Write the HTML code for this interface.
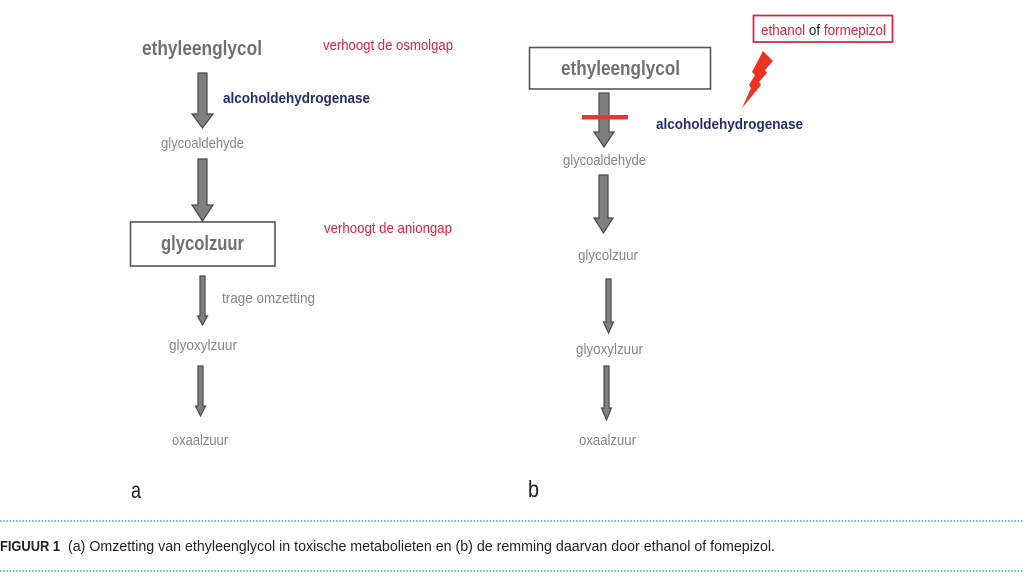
<!DOCTYPE html>
<html><head><meta charset="utf-8"><style>
html,body{margin:0;padding:0;background:#fff;}
svg{display:block;}
text{font-family:"Liberation Sans Narrow","Liberation Sans",sans-serif;}
</style></head><body>
<svg width="1024" height="578" viewBox="0 0 1024 578" xmlns="http://www.w3.org/2000/svg">
<rect width="1024" height="578" fill="#fff"/>
<g fill="#7f7f80" stroke="#4a4a4a" stroke-width="1.2" stroke-linejoin="miter">
<polygon points="198,73 207,73 207,114 213,114 202.5,128 192,114 198,114"/>
<polygon points="198,159 207,159 207,205 213,205 202.5,221 192,205 198,205"/>
<polygon points="200,276 205,276 205,316 207.5,316 202.5,325 197.5,316 200,316"/>
<polygon points="198,366 203,366 203,406 205.5,406 200.5,416 195.5,406 198,406"/>
<polygon points="599,93 609,93 609,132 614,132 604,147 594,132 599,132"/>
<polygon points="599,175 608,175 608,218 613,218 603.5,233 594,218 599,218"/>
<polygon points="606,279 611,279 611,322 613.5,322 608.5,333 603.5,322 606,322"/>
<polygon points="604,366 609,366 609,408 611.5,408 606.5,420 601.5,408 604,408"/>
</g>
<rect x="130.5" y="222" width="144.5" height="44" fill="none" stroke="#555" stroke-width="1.6"/>
<rect x="529.5" y="47.5" width="181" height="41.5" fill="none" stroke="#555" stroke-width="1.6"/>
<rect x="753.5" y="15.5" width="139" height="26.5" fill="none" stroke="#e0283c" stroke-width="1.8"/>
<rect x="582" y="115" width="46" height="4.5" fill="#e4392e"/>
<polygon points="763,51 773,61 765,70 767,73 759,82 761,85 742,108 751,88 749,85 755,75 752,72" fill="#ea3323"/>

<text x="142" y="55" font-size="20" font-weight="bold" fill="#707071" textLength="120" lengthAdjust="spacingAndGlyphs">ethyleenglycol</text>
<text x="323" y="50" font-size="15" fill="#e0203c" textLength="130" lengthAdjust="spacingAndGlyphs">verhoogt de osmolgap</text>
<text x="223" y="103" font-size="15" font-weight="bold" fill="#232d70" textLength="147" lengthAdjust="spacingAndGlyphs">alcoholdehydrogenase</text>
<text x="161" y="148" font-size="15" fill="#858587" textLength="83" lengthAdjust="spacingAndGlyphs">glycoaldehyde</text>
<text x="161" y="250" font-size="20" font-weight="bold" fill="#707071" textLength="83" lengthAdjust="spacingAndGlyphs">glycolzuur</text>
<text x="324" y="233" font-size="15" fill="#e0203c" textLength="128" lengthAdjust="spacingAndGlyphs">verhoogt de aniongap</text>
<text x="222" y="303" font-size="15" fill="#858587" textLength="93" lengthAdjust="spacingAndGlyphs">trage omzetting</text>
<text x="169" y="350" font-size="15" fill="#858587" textLength="68" lengthAdjust="spacingAndGlyphs">glyoxylzuur</text>
<text x="172" y="445" font-size="15" fill="#858587" textLength="56" lengthAdjust="spacingAndGlyphs">oxaalzuur</text>
<text x="131" y="498" font-size="23" fill="#222" textLength="10" lengthAdjust="spacingAndGlyphs">a</text>

<text x="561" y="75" font-size="20" font-weight="bold" fill="#707071" textLength="119" lengthAdjust="spacingAndGlyphs">ethyleenglycol</text>
<text x="761" y="35" font-size="15" textLength="125" lengthAdjust="spacingAndGlyphs"><tspan fill="#e0203c">ethanol </tspan><tspan fill="#222">of </tspan><tspan fill="#e0203c">formepizol</tspan></text>
<text x="656" y="129" font-size="15" font-weight="bold" fill="#232d70" textLength="147" lengthAdjust="spacingAndGlyphs">alcoholdehydrogenase</text>
<text x="563" y="165" font-size="15" fill="#858587" textLength="83" lengthAdjust="spacingAndGlyphs">glycoaldehyde</text>
<text x="578" y="260" font-size="15" fill="#858587" textLength="60" lengthAdjust="spacingAndGlyphs">glycolzuur</text>
<text x="576" y="354" font-size="15" fill="#858587" textLength="67" lengthAdjust="spacingAndGlyphs">glyoxylzuur</text>
<text x="579" y="445" font-size="15" fill="#858587" textLength="57" lengthAdjust="spacingAndGlyphs">oxaalzuur</text>
<text x="528" y="497" font-size="23" fill="#222" textLength="11" lengthAdjust="spacingAndGlyphs">b</text>

<line x1="0" y1="521" x2="1024" y2="521" stroke="#3aaec8" stroke-width="1.6" stroke-dasharray="1.6 1.6"/>
<line x1="0" y1="571" x2="1024" y2="571" stroke="#3aaec8" stroke-width="1.6" stroke-dasharray="1.6 1.6"/>
<text x="0" y="551" font-size="15" font-weight="bold" fill="#231f20" textLength="60" lengthAdjust="spacingAndGlyphs">FIGUUR 1</text>
<text x="68" y="551" font-size="15" fill="#231f20" textLength="707" lengthAdjust="spacingAndGlyphs">(a) Omzetting van ethyleenglycol in toxische metabolieten en (b) de remming daarvan door ethanol of fomepizol.</text>
</svg>
</body></html>
